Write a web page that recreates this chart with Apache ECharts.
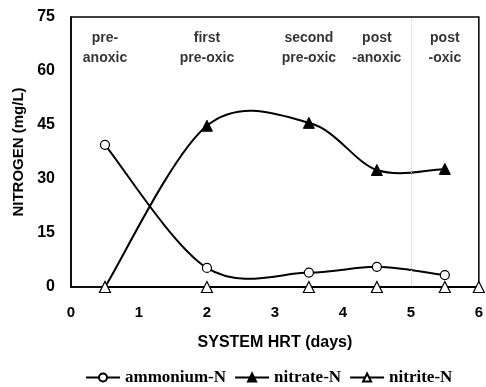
<!DOCTYPE html>
<html><head><meta charset="utf-8">
<script src="https://cdn.jsdelivr.net/npm/echarts@6/dist/echarts.min.js"></script>
<style>html,body{margin:0;padding:0;background:#fff}#c{width:486px;height:387px}</style>
</head><body><div id="c"></div>
<script>
const ammoniumX = [0.5, 2, 3.5, 4.5, 5.5];
const ammonium = [39.5, 5.3, 4.0, 5.6, 3.3];
const nitrateX = [0.5, 2, 3.5, 4.5, 5.5];
const nitrate = [0, 44.8, 45.6, 32.5, 32.8];
const nitriteX = [0.5, 2, 3.5, 4.5, 5.5, 6];
const nitrite = [0, 0, 0, 0, 0, 0];
const phaseLabels = ["pre-\nanoxic", "first\npre-oxic", "second\npre-oxic", "post\n-anoxic", "post\n-oxic"];
const phaseX = [0.5, 2, 3.5, 4.5, 5.5];

const pair = (xs, ys) => xs.map((x, i) => [x, ys[i]]);

// Catmull-Rom style spline through the data points, in pixel space via the axes.
function splineRenderer(xs, ys) {
  return function (params, api) {
    if (params.dataIndex !== 0) return null;
    const p = xs.map((x, i) => api.coord([x, ys[i]]));
    let d = 'M' + p[0][0] + ' ' + p[0][1];
    for (let i = 0; i < p.length - 1; i++) {
      const p0 = p[i - 1] || p[i], p1 = p[i], p2 = p[i + 1], p3 = p[i + 2] || p[i + 1];
      const c1 = [p1[0] + (p2[0] - p0[0]) / 6, p1[1] + (p2[1] - p0[1]) / 6];
      const c2 = [p2[0] - (p3[0] - p1[0]) / 6, p2[1] - (p3[1] - p1[1]) / 6];
      d += ' C' + c1[0] + ' ' + c1[1] + ' ' + c2[0] + ' ' + c2[1] + ' ' + p2[0] + ' ' + p2[1];
    }
    return {type: 'path', shape: {pathData: d}, style: {stroke: '#000', lineWidth: 2, fill: 'none'}};
  };
}

const chart = echarts.init(document.getElementById('c'));
const lineStyle = {color: '#000', width: 2};
const hidden = {color: '#000', width: 2, opacity: 0};
chart.setOption({
  animation: false,
  grid: {left: 71, right: 6, top: 17, bottom: 100, show: true, borderColor: '#000', borderWidth: 1.5},
  xAxis: {type: 'value', min: 0, max: 6, interval: 1,
    axisLine: {lineStyle: {color: '#000', width: 1.5}}, axisTick: {show: false}, splitLine: {show: false},
    axisLabel: {color: '#000', fontFamily: 'Liberation Sans', fontWeight: 'bold', fontSize: 15, margin: 18},
    name: 'SYSTEM HRT (days)', nameLocation: 'middle', nameGap: 48,
    nameTextStyle: {color: '#000', fontFamily: 'Liberation Sans', fontWeight: 'bold', fontSize: 16}},
  yAxis: {type: 'value', min: 0, max: 75, interval: 15,
    axisLine: {lineStyle: {color: '#000', width: 1.5}}, axisTick: {show: false}, splitLine: {show: false},
    axisLabel: {color: '#000', fontFamily: 'Liberation Sans', fontWeight: 'bold', fontSize: 16, margin: 16},
    name: 'NITROGEN (mg/L)', nameLocation: 'middle', nameGap: 44, nameRotate: 90,
    nameTextStyle: {color: '#000', fontFamily: 'Liberation Sans', fontWeight: 'bold', fontSize: 15}},
  legend: {top: 364, left: 80, itemGap: 8, itemWidth: 34, itemHeight: 10,
    lineStyle: {color: '#000', width: 2, opacity: 1},
    textStyle: {color: '#000', fontFamily: 'Liberation Serif', fontWeight: 'bold', fontSize: 17},
    data: ['ammonium-N', 'nitrate-N', 'nitrite-N']},
  series: [
    {name: 'ammonium-curve', type: 'custom', renderItem: splineRenderer(ammoniumX, ammonium),
      data: pair(ammoniumX, ammonium), z: 2, silent: true},
    {name: 'nitrate-curve', type: 'custom', renderItem: splineRenderer(nitrateX, nitrate),
      data: pair(nitrateX, nitrate), z: 2, silent: true},
    {name: 'ammonium-N', type: 'line', data: pair(ammoniumX, ammonium),
      symbol: 'circle', symbolSize: 9, clip: false, lineStyle: hidden, z: 4,
      itemStyle: {color: '#fff', borderColor: '#000', borderWidth: 1.2}},
    {name: 'nitrate-N', type: 'line', data: pair(nitrateX, nitrate),
      symbol: 'triangle', symbolSize: 11, clip: false, lineStyle: hidden, z: 4,
      itemStyle: {color: '#000', borderColor: '#000', borderWidth: 1}},
    {name: 'nitrite-N', type: 'line', data: pair(nitriteX, nitrite),
      symbol: 'triangle', symbolSize: 11, clip: false, lineStyle, z: 5,
      itemStyle: {color: '#fff', borderColor: '#000', borderWidth: 1.2},
      markLine: {silent: true, symbol: 'none', label: {show: false},
        lineStyle: {color: '#ccc', type: 'dotted', width: 1}, data: [{xAxis: 5}]}},
    {name: 'phases', type: 'scatter', symbolSize: 0, silent: true, legendHoverLink: false,
      data: phaseX.map((x, i) => ({value: [x, 72], label: {formatter: phaseLabels[i]}})),
      label: {show: true, position: 'bottom', distance: 0, color: '#000', fontFamily: 'Liberation Sans',
        fontWeight: 'bold', fontSize: 14, lineHeight: 20, align: 'center'}}
  ]
});
</script></body></html>
